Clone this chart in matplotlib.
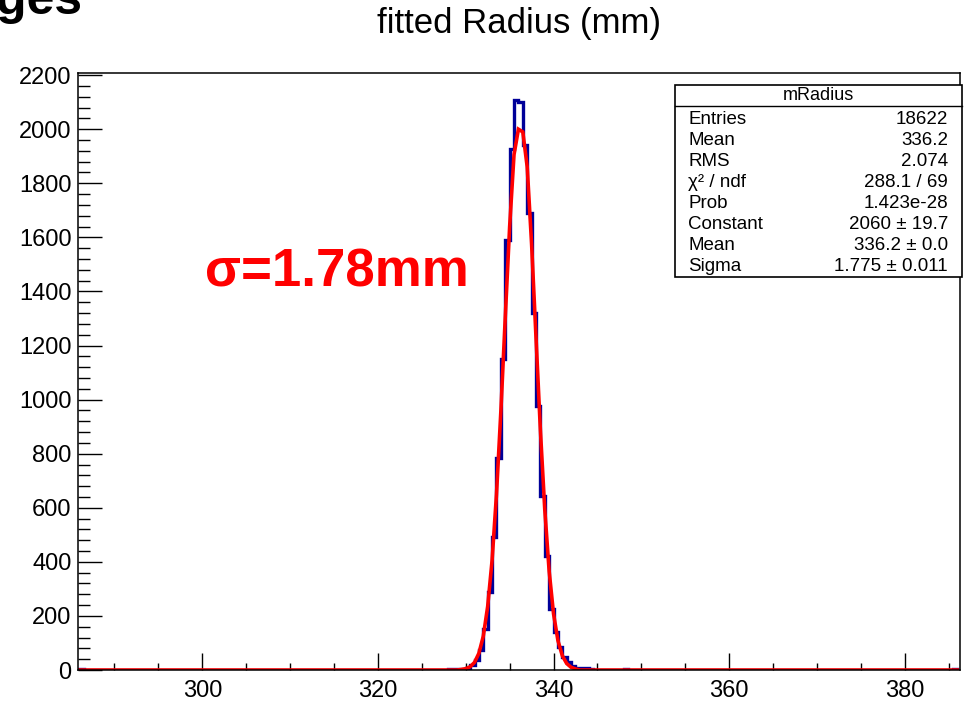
import numpy as np
import matplotlib
matplotlib.use('Agg')
import matplotlib.pyplot as plt
from matplotlib.patches import Rectangle
from matplotlib.lines import Line2D
from matplotlib.ticker import MultipleLocator

plt.rcParams['font.family'] = ['Liberation Sans', 'DejaVu Sans']

# histogram: 200 bins of 0.5 mm from 286 to 386
hist_lo, hist_hi, n_bins = 286.0, 386.0, 200

# consecutive bins starting at 328.0 mm (0.5 mm wide)
peak_start = 328.0
peak_counts = [3, 4, 4, 5, 9, 17, 36, 74, 150, 290, 492, 785, 1150, 1592,
               1927, 2107, 2100, 1943, 1690, 1320, 978, 645, 420, 225, 140,
               85, 49, 31, 14, 9, 7, 6, 5]

# a few lonely bins far from the peak (lower edge, count)
stray_lo = [286.0, 348.0, 385.5]
stray_counts = [4, 5, 4]

# gaussian fit curve as drawn
fit_x = [286, 329, 329.5, 330, 330.5, 331, 331.5, 332, 332.5, 333, 333.5,
         334, 334.5, 335, 335.5, 336, 336.5, 337, 337.5, 338, 338.5, 339,
         339.5, 340, 340.5, 341, 341.5, 342, 342.5, 343, 386]
fit_y = [0, 0, 2, 5, 12, 28, 62, 125, 235, 405, 648, 956, 1302, 1639, 1906,
         2000, 1990, 1861, 1576, 1232, 889, 594, 366, 208, 109, 53, 24, 10,
         4, 0, 0]

stat_names = ['Entries', 'Mean', 'RMS', 'χ² / ndf', 'Prob', 'Constant',
              'Mean', 'Sigma']
stat_values = ['18622', '336.2', '2.074', '288.1 / 69', '1.423e-28',
               '2060 ± 19.7', '336.2 ± 0.0', '1.775 ± 0.011']

edges = np.linspace(hist_lo, hist_hi, n_bins + 1)
counts = np.zeros(n_bins)
i0 = int(round((peak_start - hist_lo) / 0.5))
counts[i0:i0 + len(peak_counts)] = peak_counts
for lo, c in zip(stray_lo, stray_counts):
    counts[int(round((lo - hist_lo) / 0.5))] = c

fig = plt.figure(figsize=(9.71, 7.01), dpi=100)
ax = fig.add_axes([0.0808, 0.0442, 0.908, 0.8517])

ax.stairs(counts, edges, color='#000099', lw=2.4, baseline=0)
ax.plot(fit_x, fit_y, color='red', lw=2.6, solid_joinstyle='miter')

ax.set_xlim(285.9, 386.3)
ax.set_ylim(0, 2208)

ax.xaxis.set_major_locator(MultipleLocator(20))
ax.xaxis.set_minor_locator(MultipleLocator(5))
ax.yaxis.set_major_locator(MultipleLocator(200))
ax.yaxis.set_minor_locator(MultipleLocator(40))
ax.tick_params(axis='both', which='both', direction='in', top=False,
               right=False, width=1, labelsize=17)
ax.tick_params(axis='x', which='major', length=12, pad=7)
ax.tick_params(axis='x', which='minor', length=5)
ax.tick_params(axis='y', which='major', length=17, pad=5)
ax.tick_params(axis='y', which='minor', length=8.5)
for s in ax.spines.values():
    s.set_linewidth(1.1)

fig.text(0.535, 1 - 24 / 701, 'fitted Radius (mm)', ha='center',
         va='center', fontsize=25)

# cropped slide title at the top left, cut by the page edge as in the slide
fig.text(-0.004, 1 - 14 / 701, 'ges', ha='left', va='baseline',
         fontsize=36, weight='bold')

ax.text(0.144, 0.665, 'σ=1.78mm', transform=ax.transAxes, color='red',
        fontsize=38, weight='bold', ha='left', va='center')

# stats box
bx0, bx1 = 675 / 971, 962 / 971
by_top, by_bot, by_head = 1 - 85 / 701, 1 - 277 / 701, 1 - 106 / 701
fig.patches.append(Rectangle((bx0, by_bot), bx1 - bx0, by_top - by_bot,
                             transform=fig.transFigure, facecolor='white',
                             edgecolor='black', lw=1.2, zorder=5))
fig.lines.append(Line2D([bx0, bx1], [by_head, by_head],
                        transform=fig.transFigure, color='black', lw=1.0,
                        zorder=6))
fig.text((bx0 + bx1) / 2, 1 - 96 / 701, 'mRadius', ha='center', va='center',
         fontsize=13, zorder=7)
for k, (name, val) in enumerate(zip(stat_names, stat_values)):
    yy = 1 - (119 + 21.1 * k) / 701
    fig.text(688 / 971, yy, name, ha='left', va='center', fontsize=13.5,
             zorder=7)
    fig.text(948 / 971, yy, val, ha='right', va='center', fontsize=13.5,
             zorder=7)

fig.savefig('out.png', dpi=100)
